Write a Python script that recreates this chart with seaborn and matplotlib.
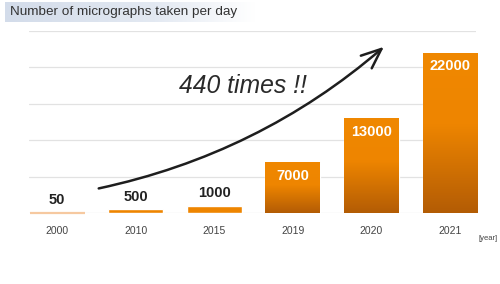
import matplotlib
matplotlib.use("Agg")
import matplotlib.pyplot as plt
import seaborn as sns
import numpy as np
import pandas as pd
from matplotlib.colors import LinearSegmentedColormap

years = ["2000", "2010", "2015", "2019", "2020", "2021"]
values = [50, 500, 1000, 7000, 13000, 22000]
title = "Number of micrographs taken per day"
annotation = "440 times !!"
unit = "[year]"

sns.set_theme(style="white")
plt.rcParams['font.family'] = ['Liberation Sans', 'DejaVu Sans']

df = pd.DataFrame({"year": years, "value": values})

fig = plt.figure(figsize=(5, 2.84), dpi=100)
ax = fig.add_axes([29/500, 1-213/284, 447/500, (213-31)/284])

sns.barplot(data=df, x="year", y="value", ax=ax, color="#EE8500", width=0.70,
            saturation=1, zorder=3)

ax.set_xlim(-0.36, 5.33)
ax.set_ylim(0, 25000)
ax.set_yticks(np.arange(0, 25001, 5000))
ax.yaxis.grid(True, color="#E2E2E2", lw=0.9, zorder=0)
ax.set_yticklabels([])
ax.tick_params(axis='y', length=0)
ax.tick_params(axis='x', length=0, labelsize=7.5, colors="#444444", pad=9)
ax.set_xlabel("")
ax.set_ylabel("")
for s in ax.spines.values():
    s.set_visible(False)

cmap = LinearSegmentedColormap.from_list("g", [(0, "#B35C05"), (0.55, "#EE8500"), (1, "#F08800")])
grad = np.linspace(0, 1, 256).reshape(-1, 1)
patches = list(ax.patches)
for i, p in enumerate(patches):
    x0, w, h = p.get_x(), p.get_width(), p.get_height()
    if i == 0:
        p.set_facecolor("#F6C9A0")
        p.set_edgecolor("#F6C9A0")
        p.set_linewidth(1.6)
        p.set_clip_on(False)
    elif i >= 3:
        im = ax.imshow(grad, extent=[x0, x0 + w, 0, h], origin="lower",
                       aspect="auto", cmap=cmap, zorder=4)
        im.set_clip_path(p)
    cx = x0 + w / 2
    if i < 3:
        ax.text(cx, h + 800, f"{values[i]}", ha="center", va="bottom",
                fontsize=10.5, fontweight="bold", color="#222222", zorder=6)
    else:
        ax.text(cx, h - 900, f"{values[i]}", ha="center", va="top",
                fontsize=10.5, fontweight="bold", color="white", zorder=6)

ax.set_xlim(-0.36, 5.33)
ax.set_ylim(0, 25000)

# title with fading background
bg = np.linspace(0, 1, 256).reshape(1, -1)
bax = fig.add_axes([5/500, 1-22/284, 250/500, 20/284])
bcm = LinearSegmentedColormap.from_list("b", [(0, "#D3DCEA"), (0.6, "#E3E9F2"), (1, "#FFFFFF")])
bax.imshow(bg, aspect="auto", cmap=bcm)
bax.axis("off")
fig.text(10/500, 1-12/284, title, ha="left", va="center", fontsize=9.7, color="#333333")

# curved arrow
ax.annotate("", xy=(386/500, 1-45/284), xytext=(96/500, 1-189/284),
            xycoords="figure fraction", textcoords="figure fraction",
            arrowprops=dict(arrowstyle="->,head_length=1.2,head_width=0.5",
                            connectionstyle="arc3,rad=0.13", color="#1E1E1E", lw=1.8),
            zorder=7)
fig.text(179/500, 1-86/284, annotation, ha="left", va="center", fontsize=17.8,
         style="italic", color="#2A2A2A")
fig.text(488/500, 1-238/284, unit, ha="center", va="center", fontsize=5.5, color="#444444")

fig.savefig("out.png", dpi=100)
